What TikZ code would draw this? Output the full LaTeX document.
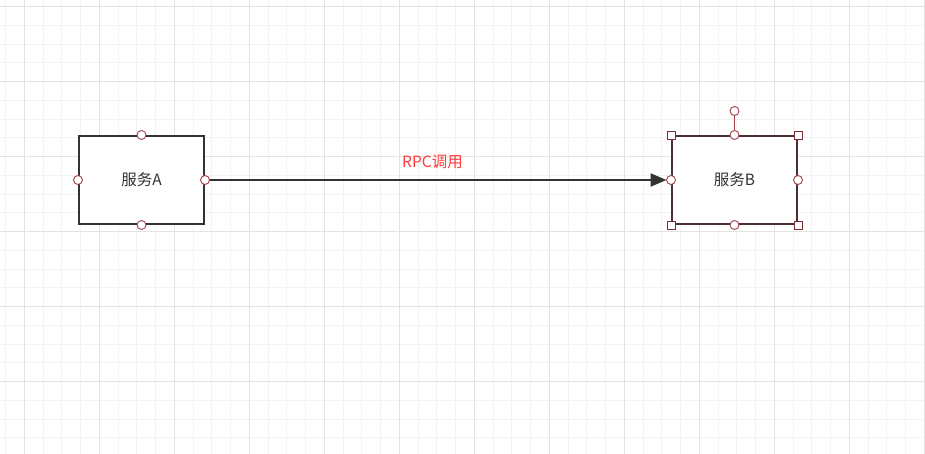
\documentclass[tikz,border=0pt]{standalone}
\usepackage{fontspec}
\newfontfamily\cjk{Noto Sans CJK SC}
\usetikzlibrary{arrows.meta}
\definecolor{minorgrid}{HTML}{F3F3F3}
\definecolor{majorgrid}{HTML}{E3E3E3}
\definecolor{boxline}{HTML}{333333}
\definecolor{selbox}{HTML}{4A2F33}
\definecolor{handle}{HTML}{A0434B}
\definecolor{selline}{HTML}{7A2E34}
\definecolor{labelred}{HTML}{FF3B3B}
\tikzset{
  svcbox/.style={draw=boxline, line width=2pt, fill=white, minimum width=125pt, minimum height=88pt, inner sep=0pt, font=\cjk\fontsize{15.5}{18}\selectfont, text=boxline},
  cpoint/.style={circle, draw=handle, fill=white, line width=0.9pt, minimum size=9pt, inner sep=0pt},
  cornerhandle/.style={rectangle, draw=selline, fill=white, line width=0.9pt, minimum size=8pt, inner sep=0pt},
  conn/.style={draw=boxline, line width=2pt, -{Triangle[length=16pt,width=13pt]}},
}
\begin{document}
\begin{tikzpicture}[x=1pt,y=-1pt]
\useasboundingbox (0,0) rectangle (925,454);
\fill[white] (0,0) rectangle (925,454);
% grid
\foreach \i in {0,...,49} {
  \draw[minorgrid, line width=1pt] ({5.55+18.75*\i},0) -- ({5.55+18.75*\i},454);
}
\foreach \j in {0,...,24} {
  \draw[minorgrid, line width=1pt] (0,{6.7+18.75*\j}) -- (925,{6.7+18.75*\j});
}
\foreach \i in {0,...,12} {
  \draw[majorgrid, line width=1pt] ({24.3+75*\i},0) -- ({24.3+75*\i},454);
}
\foreach \j in {0,...,6} {
  \draw[majorgrid, line width=1pt] (0,{6.7+75*\j}) -- (925,{6.7+75*\j});
}
% boxes
\node[svcbox] (A) at (141.5,180) {服务A};
\node[svcbox, draw=selbox] (B) at (734.5,180) {服务B};
% connector
\draw[conn, shorten >=4.5pt] (A.east) -- (B.west);
\node[font=\cjk\fontsize{15.5}{18}\selectfont, text=labelred] (lbl) at (432.5,161.5) {RPC调用};
% connection points of A
\node[cpoint] (An) at (A.north) {};
\node[cpoint] (As) at (A.south) {};
\node[cpoint] (Aw) at (A.west) {};
\node[cpoint] (Ae) at (A.east) {};
% selection handles of B
\node[cpoint] (Brot) at (734.5,111) {};
\draw[handle, line width=1pt] (Brot) -- (B.north);
\node[cornerhandle] (Bnw) at (B.north west) {};
\node[cornerhandle] (Bne) at (B.north east) {};
\node[cornerhandle] (Bsw) at (B.south west) {};
\node[cornerhandle] (Bse) at (B.south east) {};
\node[cpoint] (Bn) at (B.north) {};
\node[cpoint] (Bs) at (B.south) {};
\node[cpoint] (Bw) at (B.west) {};
\node[cpoint] (Be) at (B.east) {};
\end{tikzpicture}
\end{document}
